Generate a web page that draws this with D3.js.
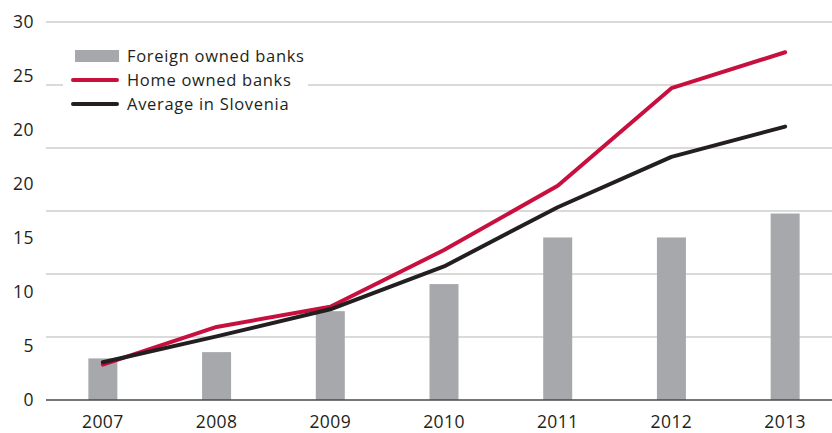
<!DOCTYPE html>
<html><head><meta charset="utf-8">
<script src="https://cdn.jsdelivr.net/npm/d3@7"></script>
<style>body{margin:0;background:#fff}svg{display:block}text{font-family:"Open Sans",Lato,sans-serif;fill:#231f20}</style>
</head><body><svg id="c" width="832" height="433"></svg>
<script>
const years = ["2007","2008","2009","2010","2011","2012","2013"];
const foreignOwned = [3.3, 3.8, 7.05, 9.2, 12.9, 12.9, 14.8];
const homeOwned = [2.8, 5.8, 7.4, 11.9, 17.0, 24.75, 27.6];
const average = [3.0, 5.05, 7.2, 10.6, 15.3, 19.3, 21.7];
const gridValues = [0, 5, 10, 15, 20, 25, 30];
const yTickLabels = ["0","5","10","15","20","20","25","30"];
const legendItems = ["Foreign owned banks","Home owned banks","Average in Slovenia"];

const svg = d3.select("#c");
const x = d3.scaleBand().domain(years).range([46, 842]).paddingInner(0.745).paddingOuter(0.3725);
const y = d3.scaleLinear().domain([0, 30]).range([400, 22]);
const yLab = d3.scaleLinear().domain([0, yTickLabels.length - 1]).range([400, 22]);

svg.append("g").selectAll("line").data(gridValues.filter(v => v > 0)).join("line")
  .attr("x1", 46).attr("x2", 832).attr("y1", d => y(d)).attr("y2", d => y(d))
  .attr("stroke", "#b5b5b5").attr("stroke-width", 1.2);

svg.append("g").selectAll("rect").data(foreignOwned).join("rect")
  .attr("x", (d, i) => x(years[i])).attr("width", x.bandwidth())
  .attr("y", d => y(d)).attr("height", d => y(0) - y(d)).attr("fill", "#a7a8ab");

svg.append("line").attr("x1", 46).attr("x2", 832).attr("y1", y(0)).attr("y2", y(0))
  .attr("stroke", "#4a4a4a").attr("stroke-width", 1.3);

const line = d3.line().x((d, i) => x(years[i]) + x.bandwidth() / 2).y(d => y(d));
svg.append("path").datum(homeOwned).attr("d", line).attr("fill", "none")
  .attr("stroke", "#c8103f").attr("stroke-width", 4).attr("stroke-linecap", "round").attr("stroke-linejoin", "round");
svg.append("path").datum(average).attr("d", line).attr("fill", "none")
  .attr("stroke", "#231f20").attr("stroke-width", 4).attr("stroke-linecap", "round").attr("stroke-linejoin", "round");

svg.append("g").selectAll("text").data(yTickLabels).join("text")
  .attr("x", 34).attr("y", (d, i) => yLab(i)).attr("dy", "0.36em").attr("text-anchor", "end")
  .attr("font-size", 17.5).attr("letter-spacing", 0.5).text(d => d);

svg.append("g").selectAll("text").data(years).join("text")
  .attr("x", d => x(d) + x.bandwidth() / 2).attr("y", 428).attr("text-anchor", "middle")
  .attr("font-size", 17.5).attr("letter-spacing", 0.4).text(d => d);

const lg = svg.append("g");
lg.append("rect").attr("x", 63).attr("y", 42).attr("width", 245).attr("height", 76).attr("fill", "#fff");
lg.append("rect").attr("x", 75).attr("y", 50).attr("width", 44).attr("height", 12).attr("fill", "#a7a8ab");
lg.append("line").attr("x1", 73).attr("x2", 117).attr("y1", 80).attr("y2", 80)
  .attr("stroke", "#c8103f").attr("stroke-width", 4).attr("stroke-linecap", "round");
lg.append("line").attr("x1", 73).attr("x2", 117).attr("y1", 104).attr("y2", 104)
  .attr("stroke", "#231f20").attr("stroke-width", 4).attr("stroke-linecap", "round");
lg.selectAll("text").data(legendItems).join("text")
  .attr("x", 127).attr("y", (d, i) => 62 + i * 24).attr("font-size", 16.5).attr("letter-spacing", 0.7).text(d => d);
</script></body></html>
